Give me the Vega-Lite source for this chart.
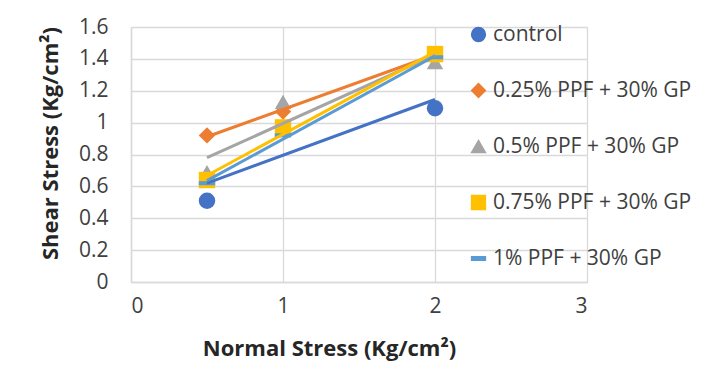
{
  "$schema": "https://vega.github.io/schema/vega-lite/v6.json",
  "width": 456,
  "height": 255,
  "autosize": {"type": "none"},
  "padding": {"left": 131, "top": 27, "right": 131, "bottom": 87},
  "background": "white",
  "config": {
    "font": "Open Sans",
    "view": {"stroke": null},
    "axis": {
      "grid": true,
      "gridColor": "#D9D9D9",
      "gridWidth": 1.3,
      "domainColor": "#D9D9D9",
      "domainWidth": 1.5,
      "ticks": false,
      "labelOverlap": false,
      "labelFont": "Open Sans",
      "labelFontSize": 21,
      "labelColor": "#404040",
      "titleFont": "Open Sans",
      "titleFontSize": 22,
      "titleFontWeight": "bold",
      "titleColor": "#262626"
    }
  },
  "data": {
    "values": [
      {"series": "control", "normal": 0.5, "shear": 0.51},
      {"series": "control", "normal": 1, "shear": 0.96},
      {"series": "control", "normal": 2, "shear": 1.09},
      {"series": "0.25% PPF + 30% GP", "normal": 0.5, "shear": 0.92},
      {"series": "0.25% PPF + 30% GP", "normal": 1, "shear": 1.07},
      {"series": "0.25% PPF + 30% GP", "normal": 2, "shear": 1.43},
      {"series": "0.5% PPF + 30% GP", "normal": 0.5, "shear": 0.69},
      {"series": "0.5% PPF + 30% GP", "normal": 1, "shear": 1.13},
      {"series": "0.5% PPF + 30% GP", "normal": 2, "shear": 1.38},
      {"series": "0.75% PPF + 30% GP", "normal": 0.5, "shear": 0.64},
      {"series": "0.75% PPF + 30% GP", "normal": 1, "shear": 0.97},
      {"series": "0.75% PPF + 30% GP", "normal": 2, "shear": 1.43},
      {"series": "1% PPF + 30% GP", "normal": 0.5, "shear": 0.62},
      {"series": "1% PPF + 30% GP", "normal": 1, "shear": 0.92},
      {"series": "1% PPF + 30% GP", "normal": 2, "shear": 1.41}
    ]
  },
  "encoding": {
    "x": {
      "field": "normal", "type": "quantitative",
      "scale": {"domain": [0, 3], "nice": false},
      "axis": {
        "values": [0, 1, 2, 3], "format": "d", "labelPadding": 13,
        "title": "Normal Stress (Kg/cm²)",
        "titleX": 198, "titleY": 66, "titleBaseline": "middle", "titleAlign": "center"
      }
    },
    "y": {
      "field": "shear", "type": "quantitative",
      "scale": {"domain": [0, 1.6], "nice": false},
      "axis": {
        "values": [0, 0.2, 0.4, 0.6, 0.8, 1, 1.2, 1.4, 1.6], "format": "~g", "labelPadding": 23,
        "title": "Shear Stress (Kg/cm²)",
        "titleX": -81, "titleY": 116, "titleBaseline": "middle", "titleAlign": "center", "titleAngle": -90
      }
    }
  },
  "layer": [
    {
      "mark": {"type": "point", "filled": true, "opacity": 1, "strokeWidth": 0, "size": 270},
      "encoding": {
        "color": {
          "field": "series", "type": "nominal",
          "scale": {
            "domain": ["control", "0.25% PPF + 30% GP", "0.5% PPF + 30% GP", "0.75% PPF + 30% GP", "1% PPF + 30% GP"],
            "range": ["#4472C4", "#ED7D31", "#A5A5A5", "#FFC000", "#5B9BD5"]
          },
          "legend": {
            "title": null,
            "orient": "none",
            "legendX": 337,
            "legendY": -3,
            "padding": 0,
            "rowPadding": 34,
            "labelFont": "Open Sans",
            "labelFontSize": 21,
            "labelColor": "#404040",
            "labelLimit": 300,
            "labelOffset": 4,
            "symbolSize": 190
          }
        },
        "shape": {
          "field": "series", "type": "nominal",
          "scale": {
            "domain": ["control", "0.25% PPF + 30% GP", "0.5% PPF + 30% GP", "0.75% PPF + 30% GP", "1% PPF + 30% GP"],
            "range": ["circle", "diamond", "triangle-up", "square", "M-1,-0.25H1V0.25H-1Z"]
          },
          "legend": {
            "title": null,
            "orient": "none",
            "legendX": 337,
            "legendY": -3,
            "padding": 0,
            "rowPadding": 34,
            "labelFont": "Open Sans",
            "labelFontSize": 21,
            "labelColor": "#404040",
            "labelLimit": 300,
            "labelOffset": 4,
            "symbolSize": 190
          }
        }
      }
    },
    {
      "transform": [
        {"regression": "shear", "on": "normal", "groupby": ["series"], "extent": [0.5, 2]}
      ],
      "mark": {"type": "line", "strokeWidth": 3},
      "encoding": {
        "stroke": {
          "field": "series", "type": "nominal", "legend": null,
          "scale": {
            "domain": ["control", "0.25% PPF + 30% GP", "0.5% PPF + 30% GP", "0.75% PPF + 30% GP", "1% PPF + 30% GP"],
            "range": ["#4472C4", "#ED7D31", "#A5A5A5", "#FFC000", "#5B9BD5"]
          }
        }
      }
    }
  ]
}
